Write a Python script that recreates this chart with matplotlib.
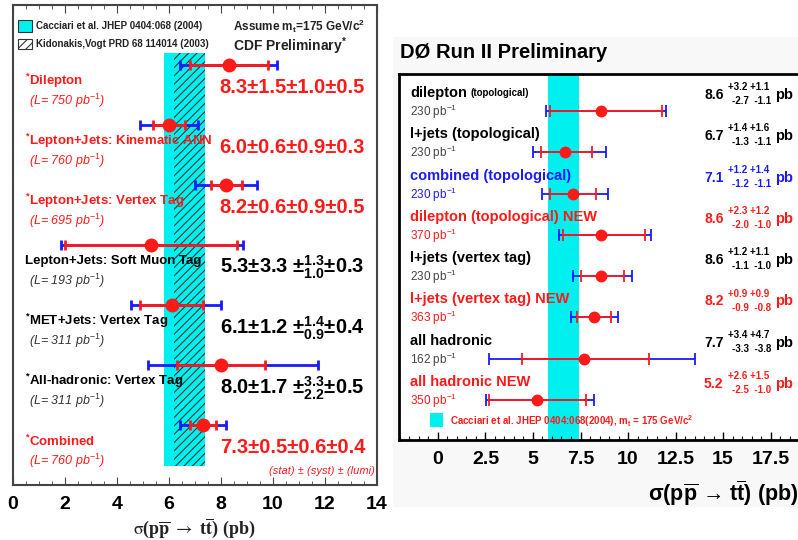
import numpy as np
import matplotlib.pyplot as plt
from matplotlib.patches import Rectangle
from matplotlib.ticker import MultipleLocator

plt.rcParams['font.family'] = ['Liberation Sans', 'DejaVu Sans']
plt.rcParams['mathtext.fontset'] = 'custom'
plt.rcParams['mathtext.rm'] = 'Liberation Sans'
plt.rcParams['mathtext.it'] = 'Liberation Sans:italic'
plt.rcParams['mathtext.bf'] = 'Liberation Sans:bold'
plt.rcParams['hatch.linewidth'] = 0.8

RED = '#ff1a1a'
BLUE = '#1a1aff'
CYAN = '#00f0f0'

# CDF measurements
cdf_names = ['Dilepton', 'Lepton+Jets: Kinematic ANN', 'Lepton+Jets: Vertex Tag',
             'Lepton+Jets: Soft Muon Tag', 'MET+Jets: Vertex Tag',
             'All-hadronic: Vertex Tag', 'Combined']
cdf_lumi = [750, 760, 695, 193, 311, 311, 760]
cdf_xsec = [8.3, 6.0, 8.2, 5.3, 6.1, 8.0, 7.3]
cdf_stat = [1.5, 0.6, 0.6, 3.3, 1.2, 1.7, 0.5]
cdf_syst_up = [1.0, 0.9, 0.9, 1.3, 1.4, 3.3, 0.6]
cdf_syst_dn = [1.0, 0.9, 0.9, 1.0, 0.9, 2.2, 0.6]
cdf_lumi_err = [0.5, 0.3, 0.5, 0.3, 0.4, 0.5, 0.4]
cdf_red = [True, True, True, False, False, False, True]
cdf_star = [True, True, True, False, True, True, True]
cacciari = (5.8, 7.4)
kidonakis = (6.2, 7.4)

# D0 measurements
d0_names = ['dilepton', 'l+jets (topological)', 'combined (topological)',
            'dilepton (topological) NEW', 'l+jets (vertex tag)',
            'l+jets (vertex tag) NEW', 'all hadronic', 'all hadronic NEW']
d0_lumi = [230, 230, 230, 370, 230, 363, 162, 350]
d0_xsec = [8.6, 6.7, 7.1, 8.6, 8.6, 8.2, 7.7, 5.2]
d0_stat_up = [3.2, 1.4, 1.2, 2.3, 1.2, 0.9, 3.4, 2.6]
d0_stat_dn = [2.7, 1.3, 1.2, 2.0, 1.1, 0.9, 3.3, 2.5]
d0_syst_up = [1.1, 1.6, 1.4, 1.2, 1.1, 0.9, 4.7, 1.5]
d0_syst_dn = [1.1, 1.1, 1.1, 1.0, 1.0, 0.8, 3.8, 1.0]
d0_color = ['black', 'black', BLUE, RED, 'black', RED, 'black', RED]
d0_ticks = [0, 2.5, 5, 7.5, 10, 12.5, 15, 17.5]

W, H = 798, 540
fig = plt.figure(figsize=(W / 100, H / 100), dpi=100)


def fpos(x, y):
    return x / W, 1 - y / H


# ---------------- CDF panel ----------------
ax = fig.add_axes([13 / W, 1 - 485 / H, 364 / W, 480 / H])
ax.set_xlim(0, 14)
ax.set_ylim(7, -1)
for s in ax.spines.values():
    s.set_color('#444444')
    s.set_linewidth(1.5)
ax.xaxis.set_major_locator(MultipleLocator(2))
ax.xaxis.set_minor_locator(MultipleLocator(0.5))
ax.tick_params(axis='x', which='both', direction='in', top=True, labelsize=14,
               color='#444444', pad=8)
ax.tick_params(axis='x', which='major', length=6)
ax.tick_params(axis='x', which='minor', length=3)
for lab in ax.get_xticklabels():
    lab.set_fontweight('bold')
ax.set_yticks([])

ax.axvspan(cacciari[0], cacciari[1], ymin=(7 - 6.68) / 8, ymax=(7 + 0.2) / 8,
           color=CYAN, lw=0, zorder=1)
ax.axvspan(kidonakis[0], kidonakis[1], ymin=(7 - 6.68) / 8, ymax=(7 + 0.2) / 8,
           facecolor='none', edgecolor='#1a3a3a', hatch='////', lw=0, zorder=1.5)

rows = np.arange(len(cdf_names))
x = np.array(cdf_xsec)
stat = np.array(cdf_stat)
tot_up = np.sqrt(stat ** 2 + np.array(cdf_syst_up) ** 2 + np.array(cdf_lumi_err) ** 2)
tot_dn = np.sqrt(stat ** 2 + np.array(cdf_syst_dn) ** 2 + np.array(cdf_lumi_err) ** 2)
ax.errorbar(x, rows, xerr=[tot_dn, tot_up], fmt='none', ecolor=BLUE,
            elinewidth=2, capsize=3.5, capthick=2, zorder=3)
ax.errorbar(x, rows, xerr=stat, fmt='o', color=RED, ms=9, elinewidth=2,
            capsize=3.5, capthick=2, zorder=4)

for i in rows:
    c = RED if cdf_red[i] else 'black'
    star = r'$^{\mathbf{*}}$' if cdf_star[i] else ''
    ax.text(0.45, i + 0.27, star + cdf_names[i], color=c, fontsize=9.5,
            fontweight='bold', va='center', ha='left')
    ax.text(0.6, i + 0.6, r'(L= %d pb$^{\mathit{-1}}$)' % cdf_lumi[i], color=c,
            fontsize=9, style='italic', va='center', ha='left',
            alpha=1 if cdf_red[i] else 0.8)
    if cdf_syst_up[i] == cdf_syst_dn[i]:
        val = f'{cdf_xsec[i]}±{cdf_stat[i]}±{cdf_syst_up[i]}±{cdf_lumi_err[i]}'
    else:
        val = (f'{cdf_xsec[i]}±{cdf_stat[i]} '
               + r'$\mathbf{\pm^{%s}_{%s}}$' % (cdf_syst_up[i], cdf_syst_dn[i])
               + f'±{cdf_lumi_err[i]}')
    ax.text(7.95, i + 0.38, val, color=c, fontsize=14.5, fontweight='bold',
            va='center', ha='left')

ax.text(13.92, 6.76, '(stat) ± (syst) ± (lumi)', color=RED, fontsize=8,
        style='italic', va='center', ha='right')

# legend and header of the CDF panel
fig.patches.append(Rectangle(fpos(18, 32), 14 / W, 12 / H, transform=fig.transFigure,
                             facecolor=CYAN, edgecolor='#333333', lw=0.8))
fig.patches.append(Rectangle(fpos(18, 49), 14 / W, 10 / H, transform=fig.transFigure,
                             facecolor='white', edgecolor='#333333', hatch='////',
                             lw=0.8))
fig.text(*fpos(36, 26), 'Cacciari et al. JHEP 0404:068 (2004)', fontsize=7,
         fontweight='bold', va='center', color='#222222')
fig.text(*fpos(36, 44), 'Kidonakis,Vogt PRD 68 114014 (2003)', fontsize=7,
         fontweight='bold', va='center', color='#222222')
fig.text(*fpos(233, 26), r'Assume m$_{\mathbf{t}}$=175 GeV/c$^{\mathbf{2}}$',
         fontsize=8.5, fontweight='bold', va='center', color='#222222')
fig.text(*fpos(233, 46), r'CDF Preliminary$^{\mathbf{*}}$', fontsize=10,
         fontweight='bold', va='center', color='#222222')
fig.text(*fpos(194, 528),
         r'$\mathrm{\sigma}$(p$\mathbf{\overline{p}}$ $\rightarrow$ t$\mathbf{\overline{t}}$) (pb)',
         fontsize=13, fontweight='bold', family='Liberation Serif',
         math_fontfamily='stix', ha='center', va='center', color='#222222')

# ---------------- D0 panel ----------------
fig.patches.append(Rectangle(fpos(393, 507), 405 / W, 470 / H, transform=fig.transFigure,
                             facecolor='#f8f8f8', edgecolor='none', zorder=-1))
bx = fig.add_axes([399 / W, 1 - 440 / H, 409 / W, 366 / H])
bx.set_zorder(2)
bx.set_xlim(-2.05, 19.47)
bx.set_ylim(7.97, -0.9)
for s in bx.spines.values():
    s.set_linewidth(2)
bx.set_xticks(d0_ticks)
bx.set_xticklabels([f'{t:g}' for t in d0_ticks], fontsize=14, fontweight='bold')
bx.xaxis.set_minor_locator(MultipleLocator(0.5))
bx.tick_params(axis='x', which='major', direction='in', length=6, width=1, pad=8)
bx.tick_params(axis='x', which='minor', direction='in', length=3, width=0.8)
bx.set_yticks([])

bx.axvspan(cacciari[0], cacciari[1], color=CYAN, lw=0, zorder=1)

rows = np.arange(len(d0_names))
x = np.array(d0_xsec)
s_up, s_dn = np.array(d0_stat_up), np.array(d0_stat_dn)
t_up = np.sqrt(s_up ** 2 + np.array(d0_syst_up) ** 2)
t_dn = np.sqrt(s_dn ** 2 + np.array(d0_syst_dn) ** 2)
bx.errorbar(x, rows, xerr=[t_dn, t_up], fmt='none', ecolor=BLUE, elinewidth=1.3,
            capsize=4, capthick=1.3, zorder=3)
bx.errorbar(x, rows, xerr=[s_dn, s_up], fmt='o', color=RED, ms=7.5, elinewidth=1.3,
            capsize=4, capthick=1.3, zorder=4)

for i in rows:
    c = d0_color[i]
    sub_c = '#444444' if c == 'black' else c
    bx.text(-1.47, i - 0.44, d0_names[i], color=c, fontsize=10.5, fontweight='bold',
            va='center', ha='left')
    bx.text(-1.47, i + 0.02, r'%d pb$^{-1}$' % d0_lumi[i], color=sub_c, fontsize=8.5,
            va='center', ha='left')
    bx.text(14.0, i - 0.39, f'{d0_xsec[i]}', color=c, fontsize=10, fontweight='bold',
            va='center', ha='left')
    bx.text(15.25, i - 0.58, f'+{d0_stat_up[i]} +{d0_syst_up[i]}', color=c, fontsize=7,
            fontweight='bold', va='center', ha='left')
    bx.text(15.45, i - 0.24, f'-{d0_stat_dn[i]}  -{d0_syst_dn[i]}', color=c, fontsize=7,
            fontweight='bold', va='center', ha='left')
    bx.text(17.75, i - 0.39, 'pb', color=c, fontsize=10.5, fontweight='bold',
            va='center', ha='left')
bx.text(1.72, -0.44, '(topological)', color='black', fontsize=7, fontweight='bold',
        va='center', ha='left')

bx.add_patch(Rectangle((-0.42, 7.31), 0.68, 0.34, facecolor=CYAN, edgecolor='none'))
bx.text(0.63, 7.5,
        r'Cacciari et al. JHEP 0404:068(2004), m$_{\mathbf{t}}$ = 175 GeV/c$^{\mathbf{2}}$',
        color=RED, fontsize=7, fontweight='bold', va='center', ha='left')

fig.text(*fpos(400, 52), 'DØ Run II Preliminary', fontsize=14.5, fontweight='bold',
         va='center', ha='left')
fig.text(*fpos(798, 493),
         r'$\mathbf{\sigma(p\overline{p}}$ → $\mathbf{t\overline{t})}$ (pb)',
         fontsize=15.5, fontweight='bold', va='center', ha='right')

fig.savefig('out.png', dpi=100)
